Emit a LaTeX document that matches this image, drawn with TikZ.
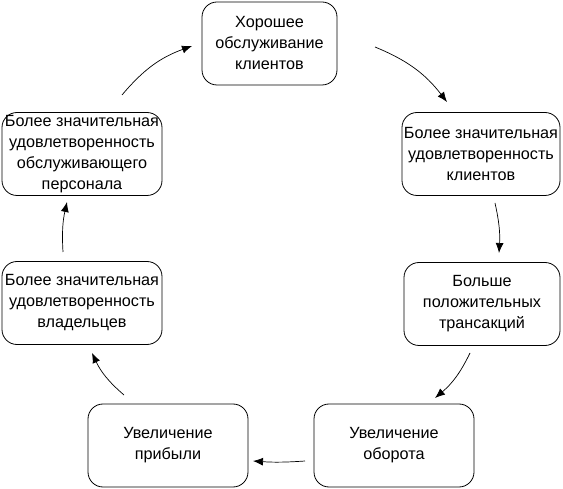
\documentclass[tikz,border=0pt]{standalone}
\usepackage{fontspec}
\setmainfont{Liberation Sans}
\usetikzlibrary{arrows.meta}
\begin{document}
\begin{tikzpicture}[x=1pt,y=-1pt]
		% Styles
		\tikzstyle{fleche}=[-{Latex[length=10pt,width=8pt]},line width=0.7pt]
		\tikzstyle{boite}=[draw,line width=0.8pt,rounded corners=15pt,align=center,inner sep=0pt,minimum height=83pt,font=\fontsize{16.2}{21}\selectfont]
		% Cadre
		\useasboundingbox (0,0) rectangle (563,489);
		% Noeuds
		\node[boite,minimum width=135pt] (service) at (269.5,43.5) {Хорошее\\обслуживание\\клиентов};
		\node[boite,minimum width=158pt] (clients) at (481,154) {Более значительная\\удовлетворенность\\клиентов};
		\node[boite,minimum width=156pt] (trans) at (482,304) {Больше\\положительных\\трансакций};
		\node[boite,minimum width=160pt] (oborot) at (394,445.5) {Увеличение\\оборота};
		\node[boite,minimum width=160pt] (pribyl) at (168,445.5) {Увеличение\\прибыли};
		\node[boite,minimum width=160pt] (vlad) at (82,303) {Более значительная\\удовлетворенность\\владельцев};
		\node[boite,minimum width=160pt] (perso) at (82,154) {Более значительная\\удовлетворенность\\обслуживающего\\персонала};
		% Extrémités des arcs
		\coordinate (d1) at (375,47);  \coordinate (f1) at (447,102);
		\coordinate (d2) at (495,203); \coordinate (f2) at (499,253);
		\coordinate (d3) at (470,353); \coordinate (f3) at (435,398);
		\coordinate (d4) at (305,461); \coordinate (f4) at (253,461);
		\coordinate (d5) at (124,395); \coordinate (f5) at (92,353);
		\coordinate (d6) at (63,252);  \coordinate (f6) at (67,202);
		\coordinate (d7) at (122,95);  \coordinate (f7) at (192,46);
		% Arcs
		\draw[fleche] (d1) to[bend left=15] (f1);
		\draw[fleche] (d2) to[bend left=8] (f2);
		\draw[fleche] (d3) to[bend left=12] (f3);
		\draw[fleche] (d4) to[bend left=4] (f4);
		\draw[fleche] (d5) to[bend left=12] (f5);
		\draw[fleche] (d6) to[bend left=8] (f6);
		\draw[fleche] (d7) to[bend left=15] (f7);
	\end{tikzpicture}
\end{document}
